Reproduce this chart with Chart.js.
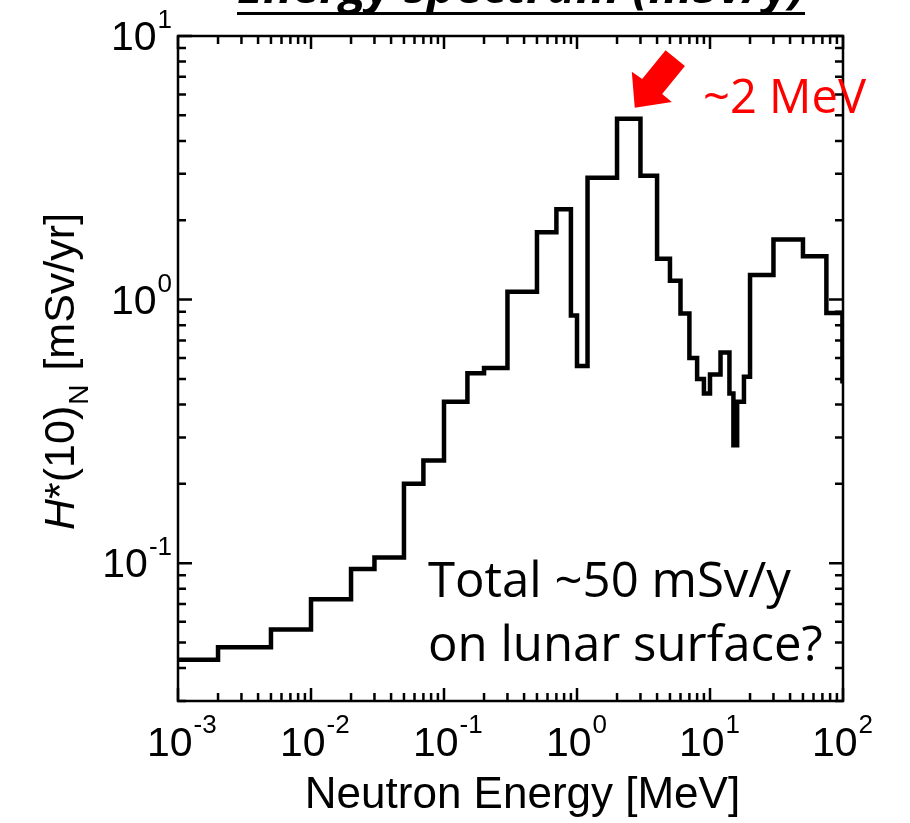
<!DOCTYPE html>
<html>
<head>
<meta charset="utf-8">
<title>Neutron energy spectrum</title>
<script src="https://cdn.jsdelivr.net/npm/chart.js@4.4.0/dist/chart.umd.min.js"></script>
<style>
  html, body { margin: 0; padding: 0; background: #fff; }
  #wrap { width: 910px; height: 823px; }
</style>
</head>
<body>
<div id="wrap"><canvas id="spectrum" width="910" height="823"></canvas></div>
<script>
// energy bin edges [MeV]
var binEdges = [0.001, 0.002, 0.005, 0.01, 0.02, 0.03, 0.05, 0.07, 0.1,
    0.15, 0.2, 0.3, 0.5, 0.7, 0.9, 1.0, 1.2,
    2, 3, 4, 5, 6, 7, 8, 9, 10,
    12, 14, 15, 16, 18, 20,
    30, 50, 75, 99, 100];
// H*(10) in each bin [mSv/yr]
var binDose = [0.043, 0.048, 0.056, 0.073, 0.095, 0.105, 0.20, 0.245,
    0.41, 0.525, 0.55, 1.07, 1.8, 2.2, 0.87, 0.56,
    2.9, 4.85, 2.95, 1.43, 1.18, 0.885, 0.60, 0.50, 0.44,
    0.52, 0.63, 0.44, 0.28, 0.41, 0.51,
    1.24, 1.69, 1.46, 0.89, 0.49];
var xDecades = [-3, -2, -1, 0, 1, 2];
var yDecades = [-1, 0, 1];

var titleText = 'Energy spectrum (mSv/y)';
var xTitle = 'Neutron Energy [MeV]';
var peakNote = '~2 MeV';
var totalNote = ['Total ~50 mSv/y', 'on lunar surface?'];

// one point per bin start plus the closing edge, drawn as a step line
var points = [];
for (var i = 0; i < binDose.length; i++) {
    points.push({ x: binEdges[i], y: binDose[i] });
}
points.push({ x: binEdges[binEdges.length - 1], y: binDose[binDose.length - 1] });

var AXIS_FONT = '"Liberation Sans", Arial, Helvetica, sans-serif';
var NOTE_FONT = '"Open Sans", "Noto Sans", sans-serif';

function fitSize(ctx, text, width, style, family) {
    ctx.font = style + ' 100px ' + family;
    return 100 * width / ctx.measureText(text).width;
}

function minorValues(lo, hi) {
    var out = [];
    for (var e = Math.floor(Math.log10(lo)); e < Math.ceil(Math.log10(hi)); e++) {
        for (var m = 1; m < 10; m++) {
            var v = m * Math.pow(10, e);
            if (v >= lo * 0.999 && v <= hi * 1.001) out.push({ v: v, major: m === 1 });
        }
    }
    if (Math.abs(Math.log10(hi) % 1) < 1e-9) out.push({ v: hi, major: true });
    return out;
}

var frame = {
    id: 'frame',
    afterDraw: function(chart) {
        var ctx = chart.ctx, a = chart.chartArea;
        var xs = chart.scales.x, ys = chart.scales.y;
        ctx.save();
        ctx.strokeStyle = '#000';
        ctx.lineWidth = 2.5;
        ctx.strokeRect(a.left, a.top, a.right - a.left, a.bottom - a.top);

        // inward ticks on all four sides
        ctx.beginPath();
        minorValues(xs.min, xs.max).forEach(function(t) {
            var px = xs.getPixelForValue(t.v), len = t.major ? 13 : 8;
            ctx.moveTo(px, a.bottom); ctx.lineTo(px, a.bottom - len);
            ctx.moveTo(px, a.top); ctx.lineTo(px, a.top + len);
        });
        minorValues(ys.min, ys.max).forEach(function(t) {
            var py = ys.getPixelForValue(t.v), len = t.major ? 14 : 8;
            ctx.moveTo(a.left, py); ctx.lineTo(a.left + len, py);
            ctx.moveTo(a.right, py); ctx.lineTo(a.right - len, py);
        });
        ctx.stroke();

        // power-of-ten tick labels
        ctx.fillStyle = '#000';
        ctx.textBaseline = 'alphabetic';
        xDecades.forEach(function(e) {
            var px = xs.getPixelForValue(Math.pow(10, e));
            ctx.font = '41px ' + AXIS_FONT;
            ctx.textAlign = 'left';
            var baseW = ctx.measureText('10').width;
            ctx.fillText('10', px - 31, a.bottom + 55);
            ctx.font = '26px ' + AXIS_FONT;
            ctx.fillText(String(e), px - 31 + baseW + 1, a.bottom + 32);
        });
        yDecades.forEach(function(e) {
            var py = ys.getPixelForValue(Math.pow(10, e));
            var right = a.left - 6;
            ctx.textAlign = 'right';
            ctx.font = '26px ' + AXIS_FONT;
            var supW = ctx.measureText(String(e)).width;
            ctx.fillText(String(e), right, py - 8);
            ctx.font = '41px ' + AXIS_FONT;
            ctx.fillText('10', right - supW - 1, py + 14);
        });

        // x axis title
        ctx.textAlign = 'center';
        ctx.font = fitSize(ctx, xTitle, 435, '', AXIS_FONT).toFixed(1) + 'px ' + AXIS_FONT;
        ctx.fillText(xTitle, (a.left + a.right) / 2 + 12, a.bottom + 107);

        // y axis title: H*(10)_N [mSv/yr], rotated
        ctx.save();
        ctx.translate(74, 530);
        ctx.rotate(-Math.PI / 2);
        ctx.textAlign = 'left';
        var fs = 43;
        ctx.font = 'italic ' + fs + 'px ' + AXIS_FONT;
        ctx.fillText('H', 0, 0);
        var cx = ctx.measureText('H').width;
        ctx.font = fs + 'px ' + AXIS_FONT;
        ctx.fillText('*(10)', cx, 0);
        cx += ctx.measureText('*(10)').width;
        ctx.font = '28px ' + AXIS_FONT;
        ctx.fillText('N', cx + 1, 14);
        cx += ctx.measureText('N').width + 3;
        ctx.font = fs + 'px ' + AXIS_FONT;
        ctx.fillText(' [mSv/yr]', cx, 0);
        ctx.restore();

        // heading, cut at the top edge, underlined
        ctx.textAlign = 'left';
        var tSize = fitSize(ctx, titleText, 568, 'italic bold', NOTE_FONT);
        ctx.font = 'italic bold ' + tSize.toFixed(1) + 'px ' + NOTE_FONT;
        ctx.fillText(titleText, 237, 3);
        ctx.fillRect(237, 12, 568, 3);

        // red arrow pointing at the 2-3 MeV bin
        var peakIdx = binDose.indexOf(Math.max.apply(null, binDose));
        var tipX = (xs.getPixelForValue(binEdges[peakIdx]) + xs.getPixelForValue(binEdges[peakIdx + 1])) / 2 + 6;
        var tipY = ys.getPixelForValue(binDose[peakIdx]) - 11;
        var ux = 0.633, uy = -0.776, vx = 0.776, vy = 0.633;
        var shape = [[0, 0], [26, -25], [27, -12.5], [64, -12.5], [64, 12.5], [28, 12.5], [28, 25]];
        ctx.fillStyle = '#ff0000';
        ctx.beginPath();
        shape.forEach(function(p, k) {
            var X = tipX + p[0] * ux + p[1] * vx, Y = tipY + p[0] * uy + p[1] * vy;
            if (k === 0) ctx.moveTo(X, Y); else ctx.lineTo(X, Y);
        });
        ctx.closePath();
        ctx.fill();

        ctx.font = fitSize(ctx, peakNote, 163, '', NOTE_FONT).toFixed(1) + 'px ' + NOTE_FONT;
        ctx.fillText(peakNote, 703, 113);

        // total dose note
        ctx.fillStyle = '#000';
        var nSize = fitSize(ctx, totalNote[1], 395, '', NOTE_FONT);
        ctx.font = nSize.toFixed(1) + 'px ' + NOTE_FONT;
        ctx.fillText(totalNote[0], 428, 597);
        ctx.fillText(totalNote[1], 428, 661);
        ctx.restore();
    }
};

new Chart(document.getElementById('spectrum'), {
    type: 'line',
    data: {
        datasets: [{
            data: points,
            stepped: 'before',
            borderColor: '#000',
            borderWidth: 4.5,
            borderJoinStyle: 'miter',
            borderCapStyle: 'butt',
            pointRadius: 0,
            fill: false
        }]
    },
    options: {
        responsive: false,
        animation: false,
        layout: { padding: { left: 178, right: 67, top: 36, bottom: 122 } },
        scales: {
            x: { type: 'logarithmic', min: 0.001, max: 100, display: false },
            y: { type: 'logarithmic', min: 0.03, max: 10, display: false }
        },
        plugins: {
            legend: { display: false },
            tooltip: { enabled: false }
        }
    },
    plugins: [frame]
});
</script>
</body>
</html>
